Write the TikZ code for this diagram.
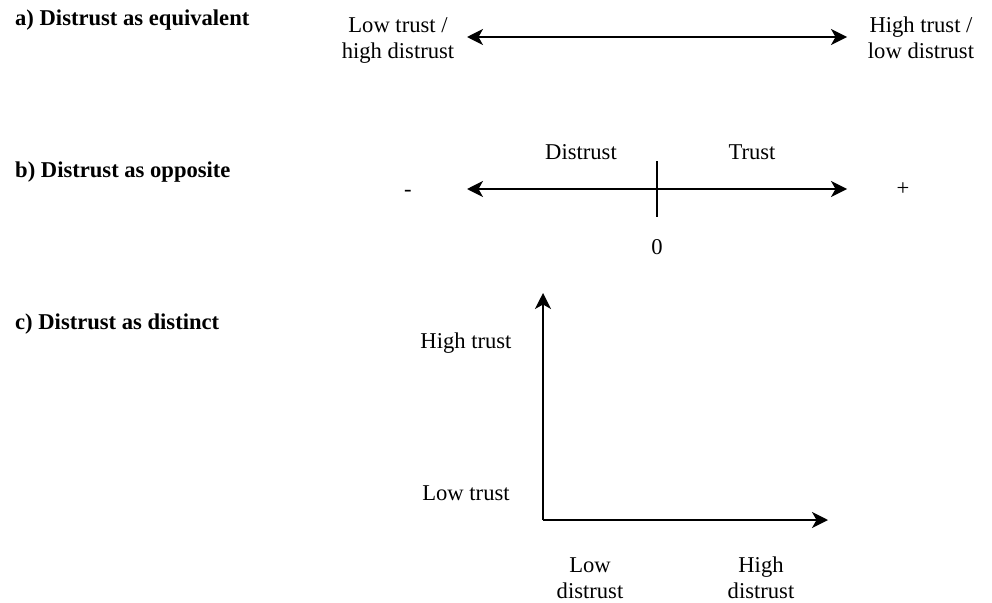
\documentclass[tikz,border=0pt]{standalone}
\usepackage{fontspec}
\setmainfont{Liberation Serif}
\usetikzlibrary{arrows.meta}
\begin{document}
\begin{tikzpicture}[x=1pt,y=-1pt,
  lbl/.style={inner sep=0pt, font=\fontsize{22.6}{26}\selectfont, anchor=base},
  lbl2/.style={inner sep=0pt, font=\fontsize{22.6}{26}\selectfont, align=center, anchor=base},
  head/.style={inner sep=0pt, font=\bfseries\fontsize{22.6}{26}\selectfont, anchor=base west},
  axis/.style={line width=1.6pt, -{Stealth[length=16pt,width=16pt,inset=4.5pt]}},
  both/.style={line width=1.6pt, {Stealth[length=16pt,width=16pt,inset=4.5pt]}-{Stealth[length=16pt,width=16pt,inset=4.5pt]}},
  tick/.style={line width=1.6pt}]
\useasboundingbox (0,0) rectangle (992,602);

% a)
\node[head] (ha) at (15,26) {a) Distrust as equivalent};
\node[lbl2] (lowa) at (398,59) {Low trust /\\high distrust};
\node[lbl2] (higha) at (921,59) {High trust /\\low distrust};
\coordinate (a1) at (467,37);
\coordinate (a2) at (847,37);
\draw[both] (a1) -- (a2);

% b)
\node[head] (hb) at (15,177) {b) Distrust as opposite};
\node[lbl] (minus) at (408,196) {-};
\node[lbl] (plus) at (903,195) {+};
\node[lbl] (dis) at (581,159) {Distrust};
\node[lbl] (tru) at (752,159) {Trust};
\node[lbl] (zero) at (657,254) {0};
\coordinate (b1) at (467,189);
\coordinate (b2) at (847,189);
\coordinate (t1) at (657,161);
\coordinate (t2) at (657,217);
\draw[both] (b1) -- (b2);
\draw[tick] (t1) -- (t2);

% c)
\node[head] (hc) at (15,329) {c) Distrust as distinct};
\coordinate (o) at (543,520);
\coordinate (ytop) at (543,293);
\coordinate (xend) at (828,520);
\draw[axis] (o) -- (ytop);
\draw[axis] (o) -- (xend);
\node[lbl] (ht) at (466,348) {High trust};
\node[lbl] (lt) at (466,500) {Low trust};
\node[lbl2] (ld) at (590,598) {Low\\distrust};
\node[lbl2] (hd) at (761,598) {High\\distrust};
\end{tikzpicture}
\end{document}
